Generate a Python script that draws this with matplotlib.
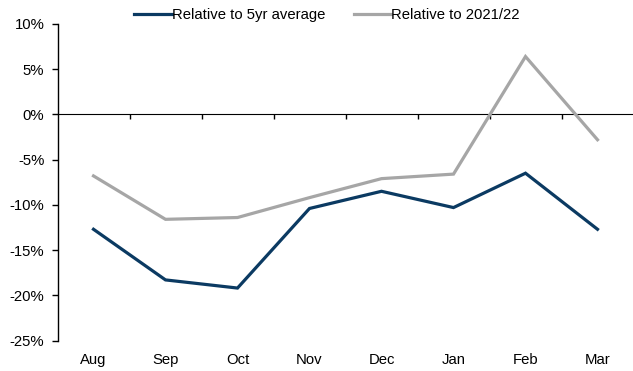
import matplotlib
matplotlib.use("Agg")
import matplotlib.pyplot as plt
import numpy as np
from matplotlib.ticker import FuncFormatter

plt.rcParams['font.family'] = ['Liberation Sans', 'DejaVu Sans']
plt.rcParams['font.size'] = 10.7

months = ["Aug", "Sep", "Oct", "Nov", "Dec", "Jan", "Feb", "Mar"]
rel_5yr = [-12.7, -18.3, -19.2, -10.4, -8.5, -10.3, -6.5, -12.7]
rel_2122 = [-6.8, -11.6, -11.4, -9.2, -7.1, -6.6, 6.4, -2.8]
yticks = [-25, -20, -15, -10, -5, 0, 5, 10]

W, H = 633, 371
fig = plt.figure(figsize=(W / 100, H / 100), dpi=100)
ax = fig.add_axes([57.5 / W, 1 - 340.5 / H, (633.5 - 57.5) / W, (340.5 - 24) / H])

x = np.arange(len(months))
ax.plot(x, rel_5yr, color="#0B3A62", lw=2.3, label="Relative to 5yr average", solid_joinstyle="miter")
ax.plot(x, rel_2122, color="#A6A6A6", lw=2.3, label="Relative to 2021/22", solid_joinstyle="miter")

ymin, ymax = -25, 10
ax.set_ylim(ymin, ymax)
ax.set_xlim(-0.5, len(months) - 0.5)
ax.set_yticks(yticks)
ax.yaxis.set_major_formatter(FuncFormatter(lambda v, p: f"{int(v)}%"))
ax.tick_params(axis="y", direction="out", length=4.5, width=1, pad=5, labelsize=10.7)

ax.set_xticks(x)
ax.set_xticklabels(months)
ax.tick_params(axis="x", length=0, pad=9, labelsize=10.7)

for s in ["top", "right", "bottom"]:
    ax.spines[s].set_visible(False)
ax.spines["left"].set_linewidth(1)

# zero line with category-boundary ticks
frac = (0 - ymin) / (ymax - ymin)
sec = ax.secondary_xaxis(frac)
sec.set_xticks(np.arange(len(months)) + 0.5)
sec.set_xticklabels([])
sec.tick_params(direction="in", length=3.8, width=1)
sec.spines["bottom"].set_linewidth(1)

leg = fig.legend(loc="center", bbox_to_anchor=(327 / W, 1 - 15 / H), ncol=2, frameon=False,
                 handlelength=2.5, handletextpad=0.0, columnspacing=1.95, fontsize=10.7,
                 borderpad=0, borderaxespad=0)

fig.savefig("out.png", dpi=100)
